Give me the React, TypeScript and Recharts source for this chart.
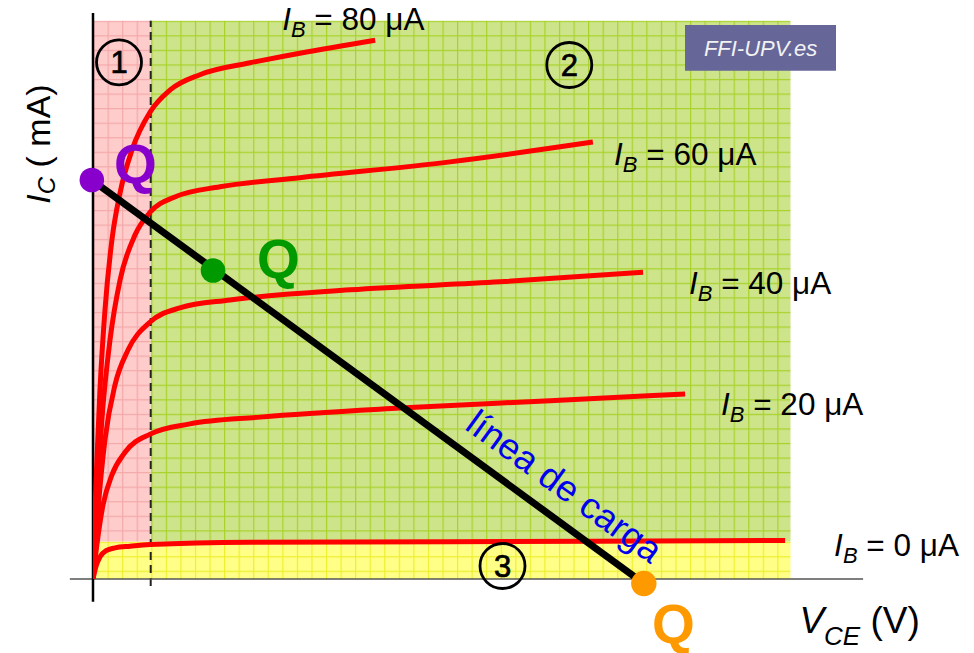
import React from 'react';
import {
  ComposedChart,
  Line,
  XAxis,
  YAxis,
  ReferenceArea,
  ReferenceLine,
  ReferenceDot,
} from 'recharts';

const FONT = "'Liberation Sans', Arial, Helvetica, sans-serif";

// Output characteristics IC (mA) vs VCE (V), one curve per base current
const ibValues = ['80', '60', '40', '20', '0'];
const curveIB80: [number, number][] = [[0, 0], [0.08, 1.75], [0.18, 3.34], [0.31, 4.75], [0.49, 5.99], [0.7, 6.82], [1.01, 7.58], [1.48, 8.25], [2.0, 8.64], [2.77, 8.91], [4.07, 9.12], [5.36, 9.29], [7.31, 9.52]];
const curveIB60: [number, number][] = [[0, 0], [0.1, 1.4], [0.23, 2.81], [0.44, 4.22], [0.7, 5.28], [1.09, 6.08], [1.48, 6.48], [2.12, 6.75], [3.29, 6.93], [5.36, 7.09], [9.25, 7.37], [12.95, 7.72]];
const curveIB40: [number, number][] = [[0, 0], [0.13, 1.22], [0.31, 2.46], [0.57, 3.43], [0.91, 4.05], [1.48, 4.54], [2.25, 4.79], [3.55, 4.93], [6.66, 5.11], [10.54, 5.25], [14.25, 5.42]];
const curveIB20: [number, number][] = [[0, 0], [0.1, 0.6], [0.26, 1.31], [0.49, 1.84], [0.83, 2.24], [1.48, 2.56], [2.51, 2.74], [4.33, 2.86], [7.95, 3.02], [11.84, 3.15], [15.34, 3.27]];
const curveIB0: [number, number][] = [[0, 0], [0.08, 0.23], [0.18, 0.39], [0.34, 0.5], [0.57, 0.55], [0.96, 0.58], [1.48, 0.61], [4.07, 0.65], [9.25, 0.66], [17.93, 0.68]];

// Load line and Q (operating) points
const loadLine: [number, number][] = [[-0.03, 7.05], [14.27, -0.08]];
const qSaturation: [number, number] = [-0.03, 7.05];
const qActive: [number, number] = [3.11, 5.45];
const qCutoff: [number, number] = [14.27, -0.08];

// Region limits
const vceSat = 1.495;
const vceMax = 18.07;
const icCut = 0.66;
const icTop = 9.864;

const toRows = (pts: [number, number][]) => pts.map(([vce, ic]) => ({ vce, ic }));

const curves = [curveIB80, curveIB60, curveIB40, curveIB20, curveIB0].map(toRows);
const loadRows = toRows(loadLine);

const anchor = (
  key: string,
  x: number,
  y: number,
  render: (cx: number, cy: number) => React.ReactNode,
  r = 0,
  extra: any = {}
) => (
  <ReferenceDot
    key={key}
    x={x}
    y={y}
    r={r}
    fill="none"
    stroke="none"
    ifOverflow="visible"
    zIndex={2000}
    {...extra}
    label={(p: any) => {
      const vb = p.viewBox || {};
      const cx = (vb.x ?? 0) + (vb.width ?? 0) / 2;
      const cy = (vb.y ?? 0) + (vb.height ?? 0) / 2;
      return render(cx, cy);
    }}
  />
);

const ibLabel = (value: string) => (cx: number, cy: number) => (
  <text x={cx} y={cy} fontFamily={FONT} fontSize={31.5} fill="#000" style={{ whiteSpace: 'pre' }}>
    <tspan fontStyle="italic">I</tspan>
    <tspan fontStyle="italic" fontSize={22} dy={7}>B</tspan>
    <tspan dy={-7}>{` = ${value} μA`}</tspan>
  </text>
);

const circled = (digit: string) => (cx: number, cy: number) => (
  <text x={cx} y={cy + 11} textAnchor="middle" fontFamily={FONT} fontSize={31} fill="#000" stroke="#000" strokeWidth={0.7}>
    {digit}
  </text>
);

const qLabel = (color: string) => (cx: number, cy: number) => (
  <text x={cx} y={cy} fontFamily={FONT} fontSize={55} fontWeight="bold" fill={color}>
    Q
  </text>
);

export default function App() {
  const ibAnchors: [number, number][] = [
    [4.9, 9.7],
    [13.5, 7.314],
    [15.44, 5.035],
    [16.27, 2.898],
    [19.2, 0.406],
  ];
  return (
    <div style={{ position: 'absolute', left: 0, top: 0, background: '#fff' }}>
      <ComposedChart width={974} height={653} margin={{ top: 13, right: 109, bottom: 74, left: 93 }}>
        <defs>
          <pattern id="gridPink" patternUnits="userSpaceOnUse" x={93} y={20.7} width={14.56} height={14.56}>
            <rect x={0} y={0} width={14.56} height={14.56} fill="#ffcccc" />
            <path d="M0,0.6 H14.56 M0.6,0 V14.56" stroke="#f3a9a9" strokeWidth={1.2} />
          </pattern>
          <pattern id="gridGreen" patternUnits="userSpaceOnUse" x={93} y={20.7} width={14.56} height={14.56}>
            <rect x={0} y={0} width={14.56} height={14.56} fill="#cde48a" />
            <path d="M0,0.6 H14.56 M0.6,0 V14.56" stroke="#a8d22c" strokeWidth={1.2} />
          </pattern>
          <pattern id="gridYellow" patternUnits="userSpaceOnUse" x={93} y={541.7} width={14.56} height={14.5}>
            <rect x={0} y={0} width={14.56} height={14.5} fill="#ffff88" />
            <path d="M0,0.6 H14.56 M0.6,0 V14.5" stroke="#eeee30" strokeWidth={1.2} />
          </pattern>
        </defs>
        <XAxis dataKey="vce" type="number" domain={[0, 20]} allowDataOverflow hide />
        <YAxis dataKey="ic" type="number" domain={[0, 10]} allowDataOverflow hide />

        <ReferenceArea x1={0} x2={vceSat} y1={icCut} y2={icTop} fill="url(#gridPink)" fillOpacity={1} stroke="none" ifOverflow="visible" zIndex={-300} />
        <ReferenceArea x1={vceSat} x2={vceMax} y1={icCut} y2={icTop} fill="url(#gridGreen)" fillOpacity={1} stroke="none" ifOverflow="visible" zIndex={-300} />
        <ReferenceArea x1={0} x2={vceMax} y1={0} y2={icCut} fill="url(#gridYellow)" fillOpacity={1} stroke="none" ifOverflow="visible" zIndex={-300} />

        <ReferenceArea x1={15.337} x2={19.249} y1={8.981} y2={9.788} fill="#666699" fillOpacity={1} stroke="none" ifOverflow="visible" zIndex={-200}
          label={(p: any) => {
            const vb = p.viewBox || {};
            const cx = (vb.x ?? 0) + (vb.width ?? 0) / 2;
            const cy = (vb.y ?? 0) + (vb.height ?? 0) / 2;
            return (
              <text x={cx} y={cy + 8} textAnchor="middle" fontFamily={FONT} fontSize={22} fontStyle="italic" fill="#f2f2f2">
                FFI-UPV.es
              </text>
            );
          }}
        />

        <ReferenceLine segment={[{ x: vceSat, y: -0.124 }, { x: vceSat, y: icTop }]} stroke="#222" strokeWidth={2} strokeDasharray="8 5" ifOverflow="visible" zIndex={-50} />
        <ReferenceLine segment={[{ x: -0.6, y: 0 }, { x: 19.95, y: 0 }]} stroke="#555" strokeWidth={1.5} ifOverflow="visible" zIndex={-50} />
        <ReferenceLine segment={[{ x: 0, y: -0.401 }, { x: 0, y: 10 }]} stroke="#000" strokeWidth={2.5} ifOverflow="visible" zIndex={-50} />

        {curves.map((rows, i) => (
          <Line
            key={ibValues[i]}
            data={rows}
            dataKey="ic"
            type="monotone"
            stroke="#ff0000"
            strokeWidth={5}
            dot={false}
            activeDot={false}
            isAnimationActive={false}
          />
        ))}
        <Line data={loadRows} dataKey="ic" type="linear" stroke="#000" strokeWidth={7} dot={false} activeDot={false} isAnimationActive={false} />

        <ReferenceDot x={qSaturation[0]} y={qSaturation[1]} r={12.3} fill="#8800cc" stroke="none" ifOverflow="visible" zIndex={1500} />
        <ReferenceDot x={qActive[0]} y={qActive[1]} r={12.3} fill="#009900" stroke="none" ifOverflow="visible" zIndex={1500} />
        <ReferenceDot x={qCutoff[0]} y={qCutoff[1]} r={12.7} fill="#ff9900" stroke="none" ifOverflow="visible" zIndex={1500} />

        {ibValues.map((v, i) => anchor('ib' + v, ibAnchors[i][0], ibAnchors[i][1], ibLabel(v)))}

        {anchor('c1', 0.674, 9.129, circled('1'), 22.5, { stroke: '#000', strokeWidth: 2.8 })}
        {anchor('c2', 12.339, 9.081, circled('2'), 22.5, { stroke: '#000', strokeWidth: 2.8 })}
        {anchor('c3', 10.609, 0.23, circled('3'), 22.5, { stroke: '#000', strokeWidth: 2.8 })}

        {anchor('q1', 0.544, 6.996, qLabel('#8800cc'))}
        {anchor('q2', 4.249, 5.318, qLabel('#009900'))}
        {anchor('q3', 14.482, -1.131, qLabel('#ff9900'))}

        {anchor('load', 9.6, 2.66, (cx, cy) => (
          <text x={cx} y={cy} transform={`rotate(36 ${cx} ${cy})`} fontFamily={FONT} fontSize={36.5} fill="#0000ee">
            línea de carga
          </text>
        ))}

        {anchor('vce', 18.3, -0.949, (cx, cy) => (
          <text x={cx} y={cy} fontFamily={FONT} fontSize={37} fill="#000" style={{ whiteSpace: 'pre' }}>
            <tspan fontStyle="italic">V</tspan>
            <tspan fontStyle="italic" fontSize={26} dy={12}>CE</tspan>
            <tspan dy={-12}>{' (V)'}</tspan>
          </text>
        ))}

        {anchor('ic', -1.114, 7.686, (cx, cy) => (
          <text x={cx} y={cy} transform={`rotate(-90 ${cx} ${cy})`} textAnchor="middle" fontFamily={FONT} fontSize={34} fill="#000" style={{ whiteSpace: 'pre' }}>
            <tspan fontStyle="italic">I</tspan>
            <tspan fontStyle="italic" fontSize={24} dy={5}>C</tspan>
            <tspan dy={-5}>{' ( mA)'}</tspan>
          </text>
        ))}
      </ComposedChart>
    </div>
  );
}
